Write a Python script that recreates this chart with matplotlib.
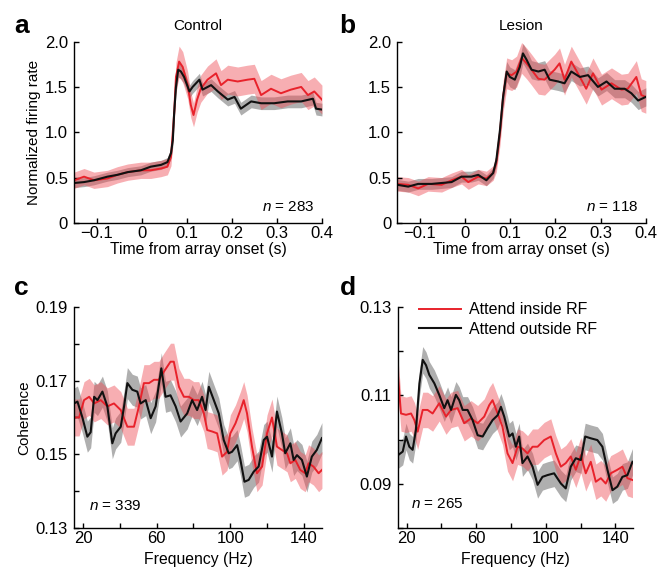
import numpy as np
import matplotlib
matplotlib.use('Agg')
import matplotlib.pyplot as plt
from matplotlib.lines import Line2D

plt.rcParams['font.family'] = ['Liberation Sans', 'DejaVu Sans']
plt.rcParams['mathtext.fontset'] = 'custom'
plt.rcParams['mathtext.it'] = 'Liberation Sans:italic'
plt.rcParams['mathtext.rm'] = 'Liberation Sans'

# ---- panel a (Control) : normalized firing rate ----
t_a_black = [-0.150, -0.128, -0.106, -0.076, -0.054, -0.031, -0.002, 0.020, 0.043, 0.057,
             0.065, 0.069, 0.072, 0.076, 0.081, 0.087, 0.094, 0.106, 0.113, 0.128, 0.135,
             0.154, 0.169, 0.191, 0.206, 0.220, 0.243, 0.265, 0.294, 0.324, 0.354, 0.380,
             0.387, 0.400]
fr_a_black = [0.44, 0.45, 0.47, 0.51, 0.53, 0.56, 0.58, 0.62, 0.64, 0.67, 0.77, 0.91, 1.21,
              1.50, 1.69, 1.67, 1.61, 1.45, 1.50, 1.58, 1.47, 1.52, 1.45, 1.36, 1.39, 1.26,
              1.34, 1.32, 1.32, 1.34, 1.34, 1.37, 1.26, 1.25]
sem_a_black = [0.05, 0.05, 0.05, 0.05, 0.05, 0.05, 0.05, 0.05, 0.05, 0.05, 0.06, 0.07, 0.08,
               0.08, 0.08, 0.08, 0.08, 0.07, 0.07, 0.07, 0.07, 0.07, 0.07, 0.07, 0.07, 0.07,
               0.07, 0.07, 0.07, 0.07, 0.07, 0.07, 0.07, 0.07]
t_a_red = [-0.150, -0.128, -0.106, -0.076, -0.054, -0.031, -0.002, 0.020, 0.043, 0.057, 0.065,
           0.072, 0.076, 0.083, 0.091, 0.102, 0.109, 0.115, 0.123, 0.131, 0.146, 0.165, 0.176,
           0.191, 0.213, 0.235, 0.250, 0.265, 0.287, 0.309, 0.331, 0.354, 0.369, 0.383, 0.400]
fr_a_red = [0.47, 0.51, 0.47, 0.49, 0.53, 0.56, 0.58, 0.58, 0.60, 0.62, 0.73, 1.21, 1.61, 1.78,
            1.72, 1.52, 1.30, 1.19, 1.36, 1.48, 1.58, 1.65, 1.52, 1.58, 1.56, 1.58, 1.59, 1.41,
            1.48, 1.43, 1.47, 1.50, 1.41, 1.45, 1.36]
sem_a_red = [0.09, 0.09, 0.09, 0.09, 0.09, 0.09, 0.09, 0.09, 0.09, 0.09, 0.10, 0.13, 0.16, 0.17,
             0.17, 0.15, 0.14, 0.13, 0.14, 0.15, 0.15, 0.16, 0.16, 0.16, 0.16, 0.16, 0.16, 0.16,
             0.16, 0.16, 0.16, 0.16, 0.16, 0.16, 0.16]

# ---- panel b (Lesion) ----
t_b_black = [-0.150, -0.126, -0.104, -0.074, -0.052, -0.030, -0.008, 0.014, 0.029, 0.047, 0.062,
             0.069, 0.077, 0.084, 0.092, 0.099, 0.110, 0.121, 0.128, 0.136, 0.147, 0.162, 0.176,
             0.187, 0.206, 0.220, 0.235, 0.254, 0.272, 0.294, 0.313, 0.331, 0.353, 0.368, 0.383,
             0.400]
fr_b_black = [0.42, 0.40, 0.43, 0.43, 0.44, 0.45, 0.51, 0.51, 0.53, 0.47, 0.55, 0.69, 1.02, 1.39,
              1.67, 1.61, 1.58, 1.72, 1.87, 1.80, 1.69, 1.67, 1.69, 1.58, 1.56, 1.54, 1.67, 1.61,
              1.63, 1.50, 1.56, 1.48, 1.48, 1.43, 1.35, 1.39]
sem_b_black = [0.06, 0.06, 0.06, 0.06, 0.06, 0.06, 0.06, 0.06, 0.06, 0.06, 0.06, 0.07, 0.09, 0.10,
               0.11, 0.11, 0.11, 0.11, 0.11, 0.11, 0.10, 0.10, 0.10, 0.10, 0.10, 0.10, 0.10, 0.10,
               0.10, 0.10, 0.10, 0.10, 0.10, 0.10, 0.10, 0.10]
t_b_red = [-0.150, -0.126, -0.104, -0.082, -0.052, -0.030, -0.008, 0.007, 0.029, 0.047, 0.062,
           0.069, 0.077, 0.084, 0.092, 0.103, 0.114, 0.125, 0.136, 0.147, 0.162, 0.176, 0.198,
           0.209, 0.220, 0.235, 0.254, 0.268, 0.283, 0.302, 0.324, 0.346, 0.360, 0.379, 0.390,
           0.400]
fr_b_red = [0.43, 0.42, 0.38, 0.43, 0.42, 0.47, 0.51, 0.45, 0.51, 0.49, 0.55, 0.66, 0.99, 1.39,
            1.65, 1.63, 1.67, 1.82, 1.76, 1.69, 1.59, 1.58, 1.69, 1.76, 1.58, 1.78, 1.61, 1.48,
            1.65, 1.47, 1.54, 1.47, 1.48, 1.61, 1.41, 1.39]
sem_b_red = [0.08, 0.08, 0.08, 0.08, 0.08, 0.08, 0.08, 0.08, 0.08, 0.08, 0.08, 0.10, 0.14, 0.17,
             0.17, 0.17, 0.17, 0.17, 0.17, 0.17, 0.17, 0.17, 0.17, 0.17, 0.17, 0.17, 0.17, 0.17,
             0.17, 0.17, 0.17, 0.17, 0.17, 0.18, 0.18, 0.18]

# ---- panel c (Control) : coherence ----
f_c_black = [15, 16.8, 19.5, 22.2, 24, 25.9, 27.7, 30.4, 33.1, 35.8, 37.6, 40.4, 42.2, 44, 46.7,
             49.4, 51.2, 54, 56.7, 59.4, 62.5, 64.8, 67.5, 70.3, 73, 76.6, 79.3, 82, 84.7, 86.6,
             88.4, 91.1, 93.8, 96.5, 99.2, 101, 103.8, 105.6, 107.8, 110.1, 112.8, 115.5, 118.3,
             120.1, 122.8, 125.5, 128.2, 130, 132.8, 134.6, 136.4, 139.1, 141.8, 144.5, 147.2, 150]
coh_c_black = [.1638, .1643, .160, .1548, .156, .1656, .1647, .167, .163, .153, .1557, .1575, .163,
               .1693, .1675, .167, .1638, .1647, .1598, .163, .1733, .1656, .166, .163, .1589,
               .1611, .1647, .162, .1656, .162, .1683, .1647, .1611, .1539, .1503, .1507, .1525,
               .1485, .1426, .1431, .1453, .1467, .1539, .1548, .1494, .1616, .1557, .1503, .153,
               .1485, .1498, .1485, .144, .1494, .1512, .1544]
f_c_red = [15, 17.7, 20.4, 23.2, 25.9, 29.5, 33.1, 36.7, 40.4, 44, 47.6, 50.3, 53, 55.8, 58.5,
           61.2, 63.9, 67.5, 69.3, 72.1, 74.8, 77.5, 80.2, 82.9, 85.7, 87.5, 90.2, 92.9, 95.6,
           98.3, 100.1, 102.9, 105.6, 107.4, 109.2, 111.9, 114.6, 117.4, 120.1, 122.8, 125.5,
           128.2, 131, 132.8, 135.5, 138.2, 140.9, 142.7, 145.4, 148.2, 150]
coh_c_red = [.160, .160, .1647, .1656, .1638, .1647, .163, .1638, .162, .1575, .1575, .163, .1693,
             .1693, .1702, .1702, .1724, .1751, .1751, .1683, .1656, .1656, .1647, .1647, .1611,
             .1566, .1562, .1557, .1494, .1507, .1557, .1584, .162, .1647, .1611, .1521, .1449,
             .1467, .1557, .160, .1521, .1512, .1503, .1476, .1485, .1458, .1449, .1476, .1467,
             .1449, .1458]
sem_c_black = 0.0042
sem_c_red = 0.005

# ---- panel d (Lesion) : coherence ----
f_d_black = [15, 17.7, 19.6, 21.5, 23.4, 25.3, 27.3, 29.2, 31.1, 33, 35.9, 38.7, 41.6, 43.5, 45.5,
             48.3, 50.2, 52.2, 55, 57.9, 60.8, 63.7, 66.5, 69.4, 72.3, 74.2, 76.1, 79, 80.9, 82.8,
             84.7, 86.6, 89.5, 92.4, 95.3, 98.1, 101, 104.8, 108.7, 111.5, 114.4, 117.3, 120.2,
             122.7, 125.9, 129.7, 132.6, 135.5, 138.4, 141.2, 144.1, 147, 149.9]
coh_d_black = [.0965, .0973, .1007, .0984, .0977, .1022, .1127, .118, .1168, .1146, .1127, .1101,
               .1071, .1089, .1067, .1101, .1089, .1067, .1067, .1044, .1010, .1007, .1026, .1044,
               .1055, .1074, .1052, .1007, .1014, .0984, .1007, .0947, .0962, .0939, .0898, .0916,
               .092, .0924, .0901, .089, .0939, .0958, .0954, .1007, .1003, .0999, .0984, .0932,
               .0886, .0894, .0916, .092, .095]
f_d_red = [15, 16.7, 19.6, 22.5, 24.4, 26.3, 29.2, 32, 34.9, 38.7, 42.6, 45.5, 49.3, 53.1, 57,
           60.8, 64.6, 67.5, 69.4, 72.3, 75.1, 78, 80.9, 83.8, 86.6, 89.5, 92.4, 95.3, 99.1,
           102.9, 105.8, 108.7, 111.5, 114.4, 117.3, 120.2, 123, 125.9, 128.8, 131.7, 134.5,
           137.4, 141.2, 144.1, 147, 149.9]
coh_d_red = [.1142, .1059, .1056, .1059, .1044, .1018, .1067, .1067, .1059, .1082, .1052, .1067,
             .1071, .1037, .1048, .1037, .1052, .1078, .1089, .1059, .1029, .0969, .0947, .0984,
             .098, .0969, .0984, .0984, .0999, .1007, .0969, .0939, .0947, .0962, .0932, .0965,
             .0924, .095, .0905, .0913, .0901, .0924, .0932, .0939, .0913, .0909]
sem_d_black = 0.003
sem_d_red = 0.004

RED = '#e8222b'
RED_FILL = '#ef4c55'
GRAY_FILL = '#7a7a7a'
TICK_FS = 12
LABEL_FS = 11.3


def draw(ax, xb, yb, sb, xr, yr, sr):
    xb, yb, xr, yr = map(np.asarray, (xb, yb, xr, yr))
    sb = np.asarray(sb) * np.ones_like(yb)
    sr = np.asarray(sr) * np.ones_like(yr)
    ax.fill_between(xb, yb - sb, yb + sb, color=GRAY_FILL, alpha=0.6, lw=0)
    ax.fill_between(xr, yr - sr, yr + sr, color=RED_FILL, alpha=0.45, lw=0)
    ax.plot(xr, yr, color=RED, lw=1.4)
    ax.plot(xb, yb, color='#111111', lw=1.5)


def style(ax):
    for s in ['top', 'right']:
        ax.spines[s].set_visible(False)
    for s in ['left', 'bottom']:
        ax.spines[s].set_linewidth(1.0)
    ax.tick_params(direction='in', length=3.8, width=1.0, labelsize=TICK_FS)
    ax.tick_params(axis='x', pad=2)
    ax.tick_params(axis='y', pad=4.5)


fig = plt.figure(figsize=(6.59, 5.70), dpi=100)
ax_a = fig.add_axes([0.1125, 0.609, 0.376, 0.318])
ax_b = fig.add_axes([0.603, 0.609, 0.377, 0.318])
ax_c = fig.add_axes([0.1125, 0.0732, 0.376, 0.3888])
ax_d = fig.add_axes([0.604, 0.0732, 0.356, 0.3888])

draw(ax_a, t_a_black, fr_a_black, sem_a_black, t_a_red, fr_a_red, sem_a_red)
draw(ax_b, t_b_black, fr_b_black, sem_b_black, t_b_red, fr_b_red, sem_b_red)
draw(ax_c, f_c_black, coh_c_black, sem_c_black, f_c_red, coh_c_red, sem_c_red)
draw(ax_d, f_d_black, coh_d_black, sem_d_black, f_d_red, coh_d_red, sem_d_red)

for ax, title, n in [(ax_a, 'Control', '283'), (ax_b, 'Lesion', '118')]:
    style(ax)
    ax.set_xlim(-0.15, 0.4)
    ax.set_ylim(0, 2.0)
    ax.set_xticks([-0.1, 0, 0.1, 0.2, 0.3, 0.4])
    ax.set_xticklabels(['\u22120.1', '0', '0.1', '0.2', '0.3', '0.4'])
    ax.set_yticks([0, 0.5, 1.0, 1.5, 2.0])
    ax.set_yticklabels(['0', '0.5', '1.0', '1.5', '2.0'])
    ax.set_xlabel('Time from array onset (s)', fontsize=LABEL_FS, labelpad=1)
    ax.set_title(title, fontsize=11, pad=8)
    ax.text(0.97, 0.05, r'$n$ = ' + n, transform=ax.transAxes, ha='right', va='bottom',
            fontsize=11)
ax_a.set_ylabel('Normalized firing rate', fontsize=11, labelpad=3)

for ax in (ax_c, ax_d):
    style(ax)
    ax.set_xlim(15, 150)
    ax.set_xticks([20, 40, 60, 80, 100, 120, 140])
    ax.set_xticklabels(['20', '', '60', '', '100', '', '140'])
    ax.set_xlabel('Frequency (Hz)', fontsize=LABEL_FS, labelpad=4.5)

ax_c.set_ylim(0.13, 0.19)
ax_c.set_yticks([0.13, 0.14, 0.15, 0.16, 0.17, 0.18, 0.19])
ax_c.set_yticklabels(['0.13', '', '0.15', '', '0.17', '', '0.19'])
ax_c.set_ylabel('Coherence', fontsize=11, labelpad=3)
ax_c.text(0.06, 0.10, r'$n$ = 339', transform=ax_c.transAxes, ha='left', va='center',
          fontsize=11)

ax_d.set_ylim(0.08, 0.13)
ax_d.set_yticks([0.08, 0.09, 0.10, 0.11, 0.12, 0.13])
ax_d.set_yticklabels(['', '0.09', '', '0.11', '', '0.13'])
ax_d.text(0.055, 0.11, r'$n$ = 265', transform=ax_d.transAxes, ha='left', va='center',
          fontsize=11)
handles = [Line2D([], [], color=RED, lw=1.4), Line2D([], [], color='#111111', lw=1.5)]
ax_d.legend(handles, ['Attend inside RF', 'Attend outside RF'], loc='upper left',
            bbox_to_anchor=(0.09, 1.02), frameon=False, fontsize=11.5, handlelength=2.6,
            handletextpad=0.5, borderpad=0, borderaxespad=0, labelspacing=0.3)

for x, y, lab in [(0.022, 0.955, 'a'), (0.515, 0.955, 'b'), (0.022, 0.495, 'c'), (0.515, 0.495, 'd')]:
    fig.text(x, y, lab, fontsize=19, fontweight='bold', ha='left', va='center')

fig.savefig('out.png', dpi=100)
